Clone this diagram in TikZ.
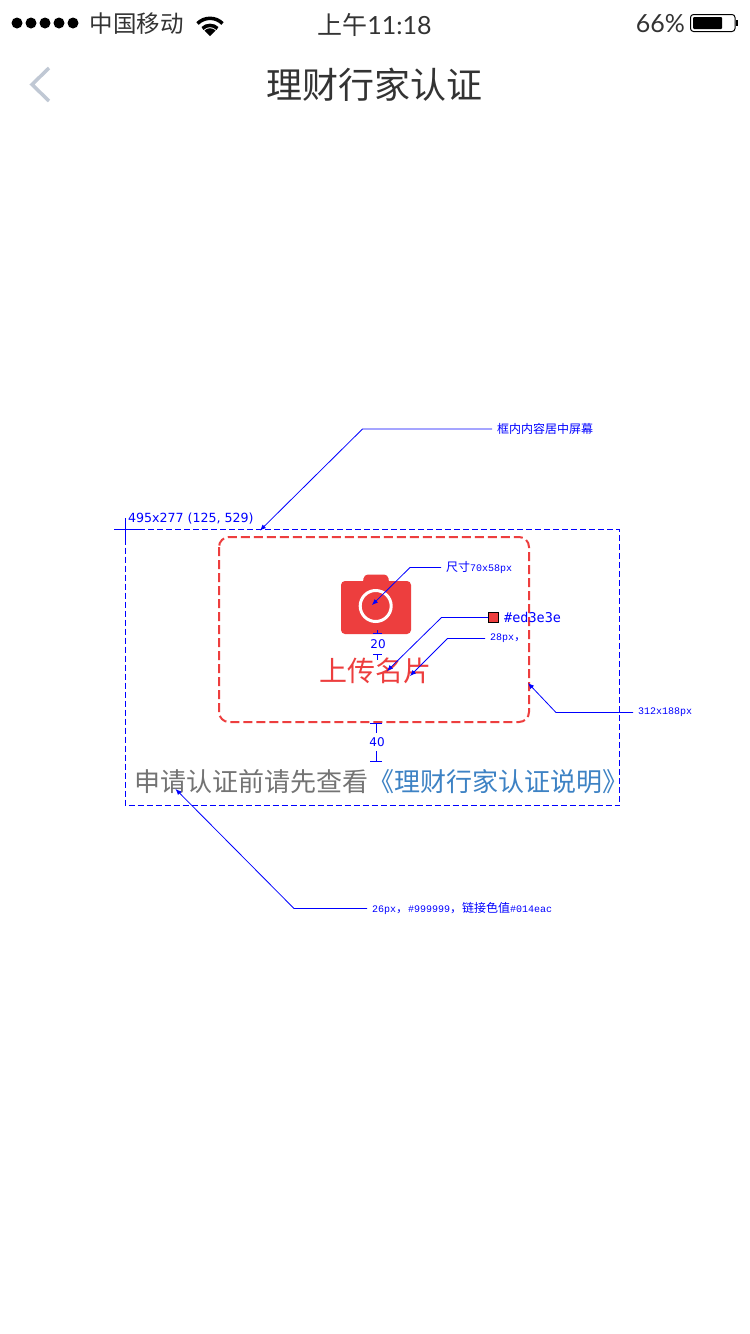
\documentclass[tikz,border=0pt]{standalone}
\usepackage{fontspec}
\setmainfont{Noto Sans CJK SC}
\newfontfamily\latinsb{Lato}
\newfontfamily\latinmk{DejaVu Sans}
\newfontfamily\monomk{DejaVu Sans Mono}
\newfontfamily\monosm{Liberation Mono}
\usetikzlibrary{arrows.meta}
\definecolor{uploadred}{HTML}{ED3E3E}
\definecolor{markblue}{HTML}{0000FF}
\definecolor{linkblue}{HTML}{3D82C4}
\definecolor{backgrey}{HTML}{C0C8D4}
\newcommand{\px}[1]{\fontsize{#1}{#1}\selectfont}
\newcommand{\smalllatin}[1]{{\monosm\px{10}#1}}
\tikzset{
    leader/.style={draw=markblue,line width=0.8pt,shorten <=5pt,-{Latex[length=6pt,width=5pt]}},
    smalllabel/.style={anchor=west,inner sep=0pt,text=markblue,font=\px{12}},
    dimlabel/.style={inner sep=0pt,text=markblue,font=\latinmk\px{12}},
    dimbar/.style={draw=markblue,line width=1pt},
}
\begin{document}
\begin{tikzpicture}[x=1pt,y=-1pt]
        \useasboundingbox (0,0) rectangle (750,1334);
        \fill[white] (0,0) rectangle (750,1334);
        % status bar
        \foreach \i in {17,31,45,59,73} {
            \fill (\i,23) circle [radius=5.5];
        }
        \node[anchor=center,inner sep=0pt,text=black!80,font=\px{23.5}] (carrier) at (136.5,24) {中国移动};
        \fill (210,36) -- (204.5,30.5) arc (225:315:7.8) -- cycle;
        \draw[line width=3.5pt] (202.5,28.5) arc (225:315:10.6);
        \draw[line width=3.5pt] (197.5,23.5) arc (225:315:17.7);
        \node[inner sep=0pt,text=black!80,font=\px{25}] (clock) at (374.5,25) {上午{\latinsb 11:18}};
        \node[anchor=east,inner sep=0pt,text=black!80,font=\latinsb\px{25}] (level) at (685,24) {66\%};
        \draw[line width=1pt,rounded corners=3pt] (690.5,14.5) rectangle (735,31.5);
        \fill[rounded corners=1pt] (693,17) rectangle (722,29);
        \fill (736,20) rectangle (738,26);
        % title bar
        \draw[color=backgrey,line width=3.5pt] (49,68) -- (32,84.5) -- (49,101);
        \node[inner sep=0pt,text=black!80,font=\px{36}] (title) at (374,85) {理财行家认证};
        % upload box
        \draw[dash pattern=on 6pt off 3pt,draw=markblue,line width=1pt] (125.5,529.5) rectangle (619.5,805.5);
        \draw[markblue,line width=1pt] (114,529.5) -- (140,529.5);
        \draw[markblue,line width=1pt] (125.5,518) -- (125.5,543);
        \node[anchor=west,inner sep=0pt,text=markblue,font=\latinmk\px{12.6}] (size) at (128,519) {495x277 (125, 529)};
        \draw[draw=uploadred,line width=2pt,dash pattern=on 9pt off 4pt,rounded corners=10pt] (219,537) rectangle (529,722);
        % camera
        \fill[uploadred,rounded corners=4pt] (341,581) rectangle (411,634);
        \fill[uploadred,rounded corners=4pt] (362,590) -- (364,574.5) -- (388,574.5) -- (390,590) -- cycle;
        \draw[white,line width=3pt] (375.7,606) circle [radius=15.5];
        \node[inner sep=0pt,text=uploadred,font=\px{28}] (upload) at (375,671) {上传名片};
        \node[anchor=west,inner sep=0pt,text=black!55,font=\px{26}] (hint) at (134,782) {申请认证前请先查看{\color{linkblue}《理财行家认证说明》}};
        % spacing marks
        \node[dimlabel] (gapa) at (378,644) {20};
        \coordinate (gapat) at (377.5,634);
        \coordinate (gapau) at (377.5,630);
        \coordinate (gapab) at (377.5,654);
        \coordinate (gapac) at (377.5,660);
        \draw[dimbar,{Bar[width=9pt,line width=1pt]}-] (gapat) -- (gapau);
        \draw[dimbar,{Bar[width=9pt,line width=1pt]}-] (gapab) -- (gapac);
        \node[dimlabel] (gapb) at (377,742) {40};
        \coordinate (gapbt) at (376,723);
        \coordinate (gapbu) at (376,733);
        \coordinate (gapbc) at (376,751);
        \coordinate (gapbb) at (376,762);
        \draw[dimbar,{Bar[width=12pt,line width=1pt]}-] (gapbt) -- (gapbu);
        \draw[dimbar,-{Bar[width=12pt,line width=1pt]}] (gapbc) -- (gapbb);
        % callouts
        \node[smalllabel] (centre) at (497,429) {框内内容居中屏幕};
        \coordinate (centreb) at (362.5,429);
        \coordinate (centret) at (260,530.5);
        \draw[leader] (centre.west) -- (centreb) -- (centret);
        \node[smalllabel] (icon) at (446,567.5) {尺寸\smalllatin{70x58px}};
        \coordinate (iconb) at (410,567.5);
        \coordinate (icont) at (372,605);
        \draw[leader] (icon.west) -- (iconb) -- (icont);
        \node[draw=black,fill=uploadred,line width=1pt,minimum size=10pt,inner sep=0pt] (swatch) at (493.5,617.5) {};
        \node[anchor=west,inner sep=0pt,text=markblue,font=\monomk\px{13.5}] (hex) at (504,617.5) {\#ed3e3e};
        \coordinate (swatchb) at (441.5,617.5);
        \coordinate (swatcht) at (387,671);
        \draw[leader,shorten <=0pt] (swatch.west) -- (swatchb) -- (swatcht);
        \node[smalllabel] (fontsz) at (490,638.5) {\smalllatin{28px}，};
        \coordinate (fontszb) at (447.5,638.5);
        \coordinate (fontszt) at (410,676);
        \draw[leader] (fontsz.west) -- (fontszb) -- (fontszt);
        \node[smalllabel] (boxsz) at (638,712.5) {\smalllatin{312x188px}};
        \coordinate (boxszb) at (556,712.5);
        \coordinate (boxszt) at (528,683);
        \draw[leader] (boxsz.west) -- (boxszb) -- (boxszt);
        \node[smalllabel] (note) at (372,908.5) {\smalllatin{26px}，\smalllatin{\#999999}，链接色值\smalllatin{\#014eac}};
        \coordinate (noteb) at (294,908.5);
        \coordinate (notet) at (175.5,789);
        \draw[leader] (note.west) -- (noteb) -- (notet);
\end{tikzpicture}
\end{document}
